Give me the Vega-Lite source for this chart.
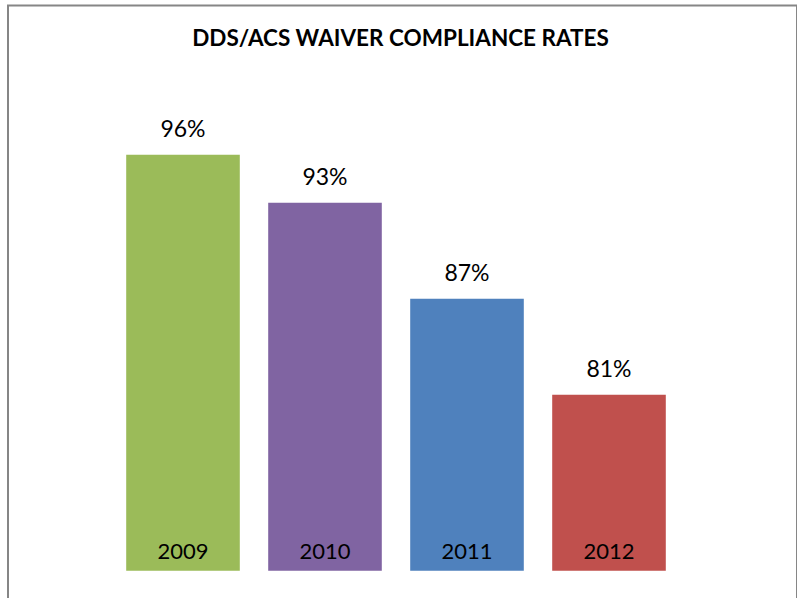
{
  "$schema": "https://vega.github.io/schema/vega-lite/v6.json",
  "autosize": "none",
  "width": 789,
  "height": 600,
  "padding": {"left": 8, "top": 5.5, "right": 0, "bottom": 0},
  "background": "white",
  "title": {
    "text": "DDS/ACS WAIVER COMPLIANCE RATES",
    "orient": "top",
    "anchor": "middle",
    "frame": "group",
    "offset": -44.5,
    "dx": -2,
    "font": "Lato",
    "fontSize": 22.5,
    "fontWeight": "bold",
    "color": "#000000"
  },
  "config": {
    "view": {"stroke": "#868686", "strokeWidth": 2},
    "axis": {"disable": true}
  },
  "data": {
    "values": [
      {"year": "2009", "rate": 0.96},
      {"year": "2010", "rate": 0.93},
      {"year": "2011", "rate": 0.87},
      {"year": "2012", "rate": 0.81}
    ]
  },
  "encoding": {
    "x": {
      "field": "year",
      "type": "nominal",
      "sort": null,
      "scale": {"range": [104, 672], "paddingInner": 0.2, "paddingOuter": 0.1},
      "axis": null
    }
  },
  "layer": [
    {
      "mark": {"type": "bar"},
      "encoding": {
        "y": {
          "field": "rate",
          "type": "quantitative",
          "scale": {"domain": [0.7, 1.0], "range": [565.2, 85.2], "zero": false, "nice": false, "clamp": false},
          "axis": null
        },
        "y2": {"datum": 0.7},
        "color": {
          "field": "year",
          "type": "nominal",
          "scale": {"domain": ["2009", "2010", "2011", "2012"], "range": ["#9BBB59", "#8064A2", "#4F81BD", "#C0504D"]},
          "legend": null
        }
      }
    },
    {
      "mark": {"type": "text", "baseline": "alphabetic", "dy": -18, "font": "Lato", "fontSize": 23, "color": "#000000"},
      "encoding": {
        "y": {"field": "rate", "type": "quantitative"},
        "text": {"field": "rate", "type": "quantitative", "format": ".0%"}
      }
    },
    {
      "mark": {"type": "text", "baseline": "alphabetic", "dy": -12, "font": "Lato", "fontSize": 22, "color": "#000000"},
      "encoding": {
        "y": {"datum": 0.7},
        "text": {"field": "year", "type": "nominal"}
      }
    }
  ]
}
